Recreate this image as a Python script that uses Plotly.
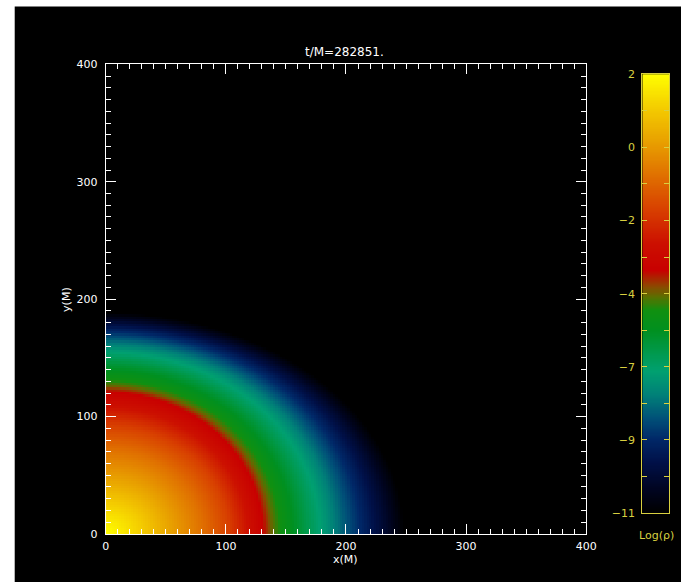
import numpy as np
import plotly.graph_objects as go

# ---------------- data ----------------
title_text = "t/M=282851."
# log(rho) levels and the radius at which each is reached along the x (equatorial) and y (polar) axes
levels = np.array([2, 1, 0, -1, -2, -3, -3.8, -4.5, -5, -6, -7, -8, -9, -10, -11])
eq_radius = np.array([0, 30, 55, 80, 102, 118, 131, 138, 145, 163, 182, 198, 215, 232, 248])
pol_radius = np.array([0, 26, 48, 72, 92, 108, 121, 126, 131, 145, 157, 166, 174, 181, 188])

axis_ticks = [0, 100, 200, 300, 400]
cb_min, cb_max = -11.0, 2.0
cb_ticktext = ["2", "0", "−2", "−4", "−7", "−9", "−11"]

# colour table (value -> colour)
cmap_vals = [-11, -10.3, -9.5, -8.8, -8.2, -7.5, -6.8, -6.3, -5.6, -5.0, -4.6, -4.3,
             -3.8, -3.0, -2.0, -1.0, 0.0, 1.0, 2.0]
cmap_cols = ["#000000", "#000420", "#001048", "#002868", "#005078", "#008078", "#00a070",
             "#009a50", "#009020", "#109010", "#5a7000", "#8a4a00",
             "#c80000", "#cc1000", "#d84000", "#e07000", "#e8a000", "#f4cc00", "#ffff00"]

# ---------------- build the density field ----------------
xs = np.arange(0, 401, 2.0)
ys = np.arange(0, 401, 2.0)
X, Y = np.meshgrid(xs, ys)
r = np.hypot(X, Y).ravel()
th = np.arctan2(Y, X).ravel()
c2, s2 = np.cos(th) ** 2, np.sin(th) ** 2

vf = np.linspace(cb_max, cb_min, 131)
af = np.interp(-vf, -levels, eq_radius)
bf = np.interp(-vf, -levels, pol_radius)
with np.errstate(divide="ignore", invalid="ignore"):
    R = 1.0 / np.sqrt(c2[None, :] / af[:, None] ** 2 + s2[None, :] / bf[:, None] ** 2)
R[0, :] = 0.0
idx = (R < r[None, :]).sum(axis=0)
i1 = np.clip(idx, 1, len(vf) - 1)
i0 = i1 - 1
cols = np.arange(r.size)
Ra, Rb = R[i0, cols], R[i1, cols]
frac = np.clip((r - Ra) / np.maximum(Rb - Ra, 1e-9), 0, 1)
V = vf[i0] + frac * (vf[i1] - vf[i0])
V = np.where(idx >= len(vf), cb_min, V)
V = np.clip(V, cb_min, cb_max).reshape(X.shape)

colorscale = [[(v - cb_min) / (cb_max - cb_min), col] for v, col in zip(cmap_vals, cmap_cols)]

# page geometry (target pixel positions are given in reference pixels)
W, H = 695, 595
S, OX, OY = 0.979, 3.3, 5.6
px = lambda p: ((p - OX) / S) / W
py = lambda p: (H - (p - OY) / S) / H

fig = go.Figure()
fig.add_trace(go.Heatmap(x=xs, y=ys, z=V, zmin=cb_min, zmax=cb_max, colorscale=colorscale,
                         showscale=False, hoverinfo="skip", xaxis="x", yaxis="y"))

cb_vals = np.linspace(cb_max, cb_min, 400)
fig.add_trace(go.Heatmap(x=[0], y=cb_vals, z=[[v] for v in cb_vals], zmin=cb_min, zmax=cb_max,
                         colorscale=colorscale, showscale=False, hoverinfo="skip",
                         xaxis="x2", yaxis="y2"))

cb_tickvals = [cb_max - (cb_max - cb_min) * k / 6 for k in range(7)]
cb_minor = [cb_max - (cb_max - cb_min) * (k + 0.5) / 6 for k in range(6)]

font = "DejaVu Sans"
yellow = "#d8d040"
ax_common = dict(showgrid=False, zeroline=False, showline=True, linecolor="white", linewidth=1,
                 mirror="ticks", ticks="inside", ticklen=10, tickwidth=1, tickcolor="white",
                 tickfont=dict(family=font, size=11, color="white"),
                 minor=dict(dtick=10, tick0=0, ticks="inside", ticklen=5, tickwidth=1,
                            tickcolor="white", showgrid=False),
                 tickvals=axis_ticks, fixedrange=True, range=[0, 400])

fig.update_layout(
    width=W, height=H, margin=dict(l=0, r=0, t=0, b=0),
    paper_bgcolor="black", plot_bgcolor="black", showlegend=False,
    xaxis=dict(domain=[px(106), px(586)], anchor="y", ticklabelstandoff=2, **ax_common),
    yaxis=dict(domain=[py(534), py(64)], anchor="x", ticklabelstandoff=5, **ax_common),
    xaxis2=dict(domain=[px(642), px(669)], anchor="y2", range=[-0.5, 0.5], showgrid=False,
                zeroline=False, showticklabels=False, ticks="", showline=True,
                linecolor=yellow, linewidth=1, mirror=True, fixedrange=True),
    yaxis2=dict(domain=[py(513), py(74)], anchor="x2", range=[cb_min, cb_max], showgrid=False,
                zeroline=False, showline=True, linecolor=yellow, linewidth=1, mirror="ticks",
                ticks="inside", ticklen=5, tickcolor=yellow, tickmode="array",
                tickvals=cb_tickvals, ticktext=cb_ticktext, ticklabelstandoff=4,
                tickfont=dict(family=font, size=11, color=yellow),
                minor=dict(tickmode="array", tickvals=cb_minor, ticks="inside", ticklen=5,
                           tickcolor=yellow, showgrid=False),
                fixedrange=True),
    shapes=[
        dict(type="rect", xref="paper", yref="paper", x0=-0.1, x1=px(15), y0=-0.1, y1=1.1,
             fillcolor="white", line=dict(width=0), layer="above"),
        dict(type="rect", xref="paper", yref="paper", x0=-0.1, x1=1.1, y0=py(6), y1=1.1,
             fillcolor="white", line=dict(width=0), layer="above"),
    ],
    annotations=[
        dict(text=title_text, x=px(345), y=py(52), xref="paper", yref="paper", showarrow=False,
             xanchor="center", yanchor="middle", font=dict(family=font, size=12, color="white")),
        dict(text="x(M)", x=px(346), y=py(560), xref="paper", yref="paper", showarrow=False,
             xanchor="center", yanchor="middle", font=dict(family=font, size=11, color="white")),
        dict(text="y(M)", x=px(66), y=py(299), xref="paper", yref="paper", showarrow=False,
             textangle=-90, xanchor="center", yanchor="middle",
             font=dict(family=font, size=11, color="white")),
        dict(text="Log(ρ)", x=px(656), y=py(536), xref="paper", yref="paper", showarrow=False,
             xanchor="center", yanchor="middle", font=dict(family=font, size=11, color=yellow)),
    ],
)

fig.write_html("out.html")
